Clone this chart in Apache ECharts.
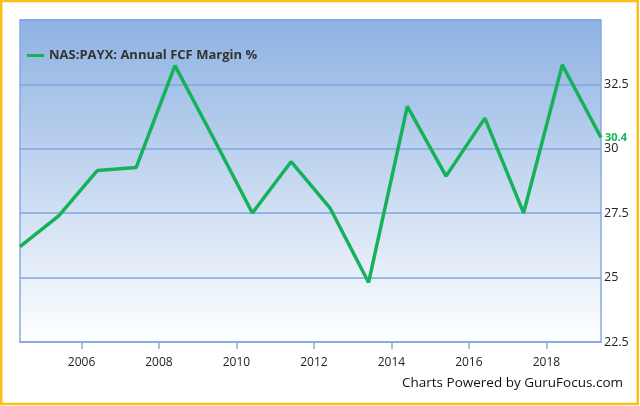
<!DOCTYPE html>
<html>
<head>
<meta charset="utf-8">
<script src="https://cdn.jsdelivr.net/npm/echarts@6/dist/echarts.min.js"></script>
<style>
html,body{margin:0;padding:0;background:#fff;}
#chart{width:640px;height:406px;}
</style>
</head>
<body>
<div id="chart"></div>
<script>
var dates = ['2004-05-31','2005-05-31','2006-05-31','2007-05-31','2008-05-31','2009-05-31','2010-05-31','2011-05-31','2012-05-31','2013-05-31','2014-05-31','2015-05-31','2016-05-31','2017-05-31','2018-05-31','2019-05-31'];
var fcfMargin = [26.20, 27.40, 29.16, 29.27, 33.23, 30.40, 27.51, 29.50, 27.71, 24.81, 31.65, 28.94, 31.19, 27.51, 33.26, 30.44];
var seriesName = 'NAS:PAYX: Annual FCF Margin %';
var lastLabel = '30.4';
var yMin = 22.5, yMax = 35, yStep = 2.5;

var chart = echarts.init(document.getElementById('chart'), null, {renderer:'canvas'});
var data = dates.map(function(d,i){ return [d, fcfMargin[i]]; });
var option = {
  animation: false,
  backgroundColor: '#ffffff',
  grid: {
    left: 20, right: 39, top: 20, bottom: 64,
    show: true,
    borderColor: '#86aae2', borderWidth: 1.5,
    backgroundColor: new echarts.graphic.LinearGradient(0,0,0,1,[
      {offset:0, color:'#8db2e2'},
      {offset:1, color:'#ffffff'}
    ])
  },
  legend: {
    show: true,
    left: 22, top: 44,
    icon: 'rect', itemWidth: 17, itemHeight: 3, itemGap: 6,
    textStyle: {fontFamily:'Open Sans', fontWeight:'bold', fontSize:13, color:'#333333'},
    data: [seriesName]
  },
  xAxis: {
    type: 'time',
    min: dates[0], max: dates[dates.length-1],
    minInterval: 2*365*24*3600*1000,
    maxInterval: 2*366*24*3600*1000,
    axisLine: {show:true, lineStyle:{color:'#86aae2', width:1.5}},
    axisTick: {show:true, length:7, lineStyle:{color:'#86aae2', width:1.5}},
    splitLine: {show:false},
    axisLabel: {formatter:'{yyyy}', color:'#222222', fontFamily:'Open Sans', fontSize:12, margin:15, fontWeight:'normal'}
  },
  yAxis: {
    type: 'value', position: 'right',
    min: yMin, max: yMax, interval: yStep,
    axisLine: {show:false},
    axisTick: {show:false},
    splitLine: {show:true, lineStyle:{color:'#80a6e0', width:1.5}},
    axisLabel: {showMaxLabel:false, color:'#222222', fontFamily:'Open Sans', fontSize:12.5, margin:3}
  },
  series: [{
    name: seriesName,
    type: 'line',
    data: data,
    symbol: 'none',
    lineStyle: {color:'#16b25a', width:3.5},
    itemStyle: {color:'#16b25a'},
    endLabel: {
      show: true, formatter: lastLabel, color:'#16b25a', fontWeight:'bold',
      fontFamily:'Open Sans', fontSize:11, distance:4
    }
  }],
  graphic: [
    {type:'rect', shape:{x:1.25, y:1, width:636.5, height:403}, style:{fill:'none', stroke:'#fdbf17', lineWidth:2.5}, silent:true},
    {type:'text', right: 17, top: 376, style:{text:'Charts Powered by GuruFocus.com', fill:'#111111', font:'13.5px "Open Sans"'}}
  ]
};
chart.setOption(option);
</script>
</body>
</html>
